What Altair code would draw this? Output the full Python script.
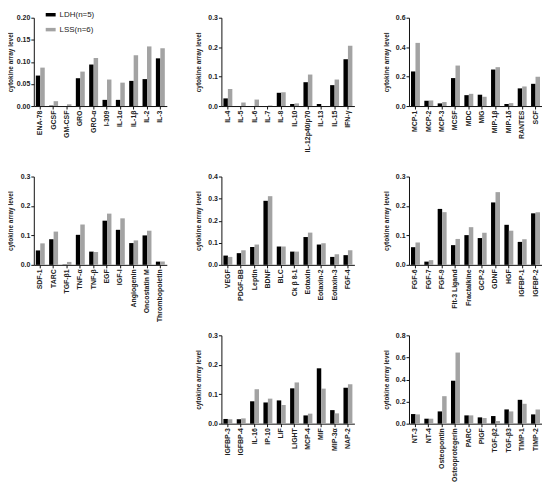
import altair as alt
import pandas as pd

groups = ["LDH(n=5)", "LSS(n=6)"]
colors = ["#000000", "#a3a3a3"]

p1_cat = ["ENA-78", "GCSF", "GM-CSF", "GRO", "GRO-α", "I-309", "IL-1α", "IL-1β", "IL-2", "IL-3"]
p1_ldh = [0.069, 0.001, 0.0, 0.063, 0.094, 0.014, 0.014, 0.057, 0.061, 0.108]
p1_lss = [0.087, 0.011, 0.004, 0.078, 0.109, 0.060, 0.053, 0.115, 0.135, 0.131]

p2_cat = ["IL-4", "IL-5", "IL-6", "IL-7", "IL-8", "IL-10", "IL-12p40/p70", "IL-13", "IL-15", "IFN-γ"]
p2_ldh = [0.026, 0.0, 0.0, 0.0, 0.045, 0.007, 0.081, 0.007, 0.071, 0.159]
p2_lss = [0.058, 0.012, 0.022, 0.002, 0.047, 0.009, 0.107, 0.0, 0.090, 0.205]

p3_cat = ["MCP-1", "MCP-2", "MCP-3", "MCSF", "MDC", "MIG", "MIP-1β", "MIP-1δ", "RANTES", "SCF"]
p3_ldh = [0.235, 0.036, 0.018, 0.190, 0.074, 0.077, 0.248, 0.014, 0.120, 0.151]
p3_lss = [0.429, 0.038, 0.027, 0.275, 0.083, 0.063, 0.264, 0.020, 0.133, 0.199]

p4_cat = ["SDF-1", "TARC", "TGF-β1", "TNF-α", "TNF-β", "EGF", "IGF-I", "Angiogenin", "Oncostatin M", "Thrombopoietin"]
p4_ldh = [0.049, 0.087, 0.001, 0.102, 0.045, 0.150, 0.119, 0.074, 0.100, 0.011]
p4_lss = [0.073, 0.113, 0.010, 0.137, 0.044, 0.174, 0.158, 0.083, 0.116, 0.011]

p5_cat = ["VEGF", "PDGF-BB", "Leptin", "BDNF", "BLC", "Ck β 8-1", "Eotaxin", "Eotaxin-2", "Eotaxin-3", "FGF-4"]
p5_ldh = [0.042, 0.053, 0.081, 0.290, 0.083, 0.060, 0.126, 0.092, 0.036, 0.044]
p5_lss = [0.036, 0.066, 0.092, 0.311, 0.083, 0.060, 0.146, 0.098, 0.048, 0.066]

p6_cat = ["FGF-6", "FGF-7", "FGF-9", "Flt-3 Ligand", "Fractalkine", "GCP-2", "GDNF", "HGF", "IGFBP-1", "IGFBP-2"]
p6_ldh = [0.060, 0.011, 0.190, 0.067, 0.101, 0.091, 0.212, 0.136, 0.078, 0.175]
p6_lss = [0.076, 0.016, 0.179, 0.088, 0.128, 0.109, 0.247, 0.116, 0.087, 0.179]

p7_cat = ["IGFBP-3", "IGFBP-4", "IL-16", "IP-10", "LIF", "LIGHT", "MCP-4", "MIF", "MIP-3α", "NAP-2"]
p7_ldh = [0.016, 0.015, 0.076, 0.072, 0.079, 0.120, 0.028, 0.188, 0.046, 0.122]
p7_lss = [0.015, 0.018, 0.117, 0.085, 0.063, 0.140, 0.034, 0.119, 0.035, 0.134]

p8_cat = ["NT-3", "NT-4", "Osteopontin", "Osteoprotegerin", "PARC", "PIGF", "TGF-β2", "TGF-β3", "TIMP-1", "TIMP-2"]
p8_ldh = [0.087, 0.045, 0.111, 0.389, 0.075, 0.057, 0.069, 0.129, 0.216, 0.084]
p8_lss = [0.084, 0.045, 0.249, 0.644, 0.075, 0.051, 0.024, 0.111, 0.180, 0.129]

ticks_020 = [0.0, 0.05, 0.10, 0.15, 0.20]
ticks_03 = [0.0, 0.1, 0.2, 0.3]
ticks_04 = [0.0, 0.1, 0.2, 0.3, 0.4]
ticks_06 = [0.0, 0.2, 0.4, 0.6]
ticks_08 = [0.0, 0.2, 0.4, 0.6, 0.8]

W, H = 134, 89
EY = 18


def panel(cats, ldh, lss, ticks, fmt, legend=False):
    n = len(cats)
    df = pd.DataFrame({
        "cat": cats + cats,
        "group": [groups[0]] * n + [groups[1]] * n,
        "value": ldh + lss,
    })
    leg = None
    if legend:
        leg = alt.Legend(
            title=None, orient="none", legendX=12, legendY=-8,
            symbolType="M-1,-0.35H1V0.35H-1Z", symbolSize=100,
            symbolStrokeWidth=0, labelFontSize=8, labelFont="Liberation Sans",
            labelFontWeight="normal", labelColor="#222222", rowPadding=6,
            labelOffset=4,
        )
    return alt.Chart(df).mark_bar().encode(
        x=alt.X("cat:N", sort=cats, title=None,
                scale=alt.Scale(paddingInner=0.33, paddingOuter=0.15),
                axis=alt.Axis(labelAngle=270, labelAlign="right", labelBaseline="middle")),
        xOffset=alt.XOffset("group:N", sort=groups,
                            scale=alt.Scale(paddingInner=0, paddingOuter=0)),
        y=alt.Y("value:Q", scale=alt.Scale(domain=[0, ticks[-1]], nice=False),
                axis=alt.Axis(values=ticks, format=fmt, title="cytokine array level",
                              minExtent=EY, maxExtent=EY)),
        color=alt.Color("group:N", scale=alt.Scale(domain=groups, range=colors), legend=leg),
    ).properties(width=W, height=H)


c1 = panel(p1_cat, p1_ldh, p1_lss, ticks_020, ".2f", legend=True)
c2 = panel(p2_cat, p2_ldh, p2_lss, ticks_03, ".1f")
c3 = panel(p3_cat, p3_ldh, p3_lss, ticks_06, ".1f")
c4 = panel(p4_cat, p4_ldh, p4_lss, ticks_03, ".1f")
c5 = panel(p5_cat, p5_ldh, p5_lss, ticks_04, ".1f")
c6 = panel(p6_cat, p6_ldh, p6_lss, ticks_03, ".1f")
c7 = panel(p7_cat, p7_ldh, p7_lss, ticks_03, ".1f")
c8 = panel(p8_cat, p8_ldh, p8_lss, ticks_08, ".1f")

# empty grid cell (bottom-left)
blank = alt.Chart(pd.DataFrame({"v": [0]})).mark_point(opacity=0).encode(
    y=alt.Y("v:Q", axis=None)
).properties(width=W, height=H)

chart = alt.concat(
    c1, c2, c3, c4, c5, c6, blank, c7, c8,
    columns=3, bounds="flush", spacing={"row": 71, "column": 55},
).properties(
    padding={"top": 0, "left": 0, "right": 0, "bottom": 0}
).configure_view(stroke=None).configure_axis(
    grid=False,
    labelFont="Liberation Sans", labelFontSize=7, labelFontWeight="bold", labelColor="#222222",
    labelPadding=1, tickSize=3, tickColor="#111111", domainColor="#111111",
    tickWidth=1, domainWidth=1,
    titleFont="Liberation Sans", titleFontSize=6.5, titleFontWeight="bold", titleColor="#222222",
    titlePadding=2,
)

chart.save("out.html", embed_options={"renderer": "svg", "actions": False})
